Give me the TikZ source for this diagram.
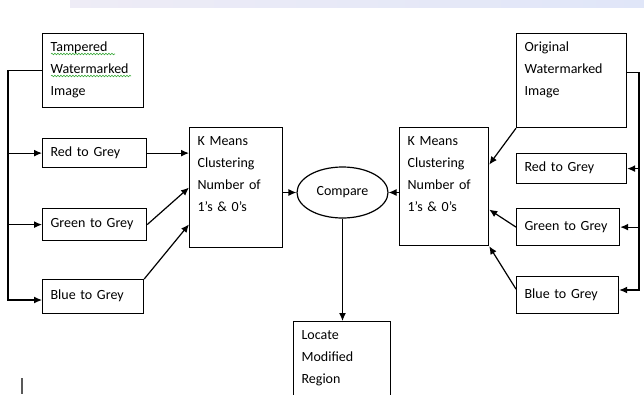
\documentclass[tikz,border=0pt]{standalone}
\usepackage{fontspec}
\setmainfont{Carlito}
\usetikzlibrary{arrows.meta, positioning, calc, shapes.geometric, decorations.pathmorphing}
\definecolor{bandL}{RGB}{238,236,246}
\definecolor{bandR}{RGB}{224,230,248}
\definecolor{spell}{RGB}{60,170,60}

\begin{document}
\begin{tikzpicture}[
    x=1pt, y=-1pt,
    font=\fontsize{14}{22}\selectfont,
    >={Latex[length=8pt, width=7pt]},
    % Base styles for the boxes (text sits at the top left)
    box/.style={rectangle, draw=black, line width=1.2pt, anchor=north west, align=left, inner xsep=8pt, inner ysep=0pt, text height=10pt, text depth=4pt},
    tall/.style={box, inner ysep=8pt, text depth=#1},
    oval/.style={ellipse, draw=black, line width=1.2pt, inner sep=0pt, minimum width=91pt, minimum height=51pt},
    wire/.style={line width=1.2pt},
    spellmark/.style={spell, line width=0.6pt, decorate, decoration={snake, amplitude=0.8pt, segment length=3pt}}
]
\useasboundingbox (0,0) rectangle (644,394);
\clip (0,0) rectangle (644,394);

% faint banner along the top edge
\shade[left color=bandL, right color=bandR] (70,0) rectangle (644,7.5);

% --- Left side: tampered image ---
\node[tall=48pt, text width=85pt] (tamp) at (42,33) {Tampered\\Watermarked\\Image};
\node[box, text width=88pt, minimum height=29pt] (redL) at (42,138) {Red to Grey};
\node[box, text width=88pt, minimum height=32pt] (greenL) at (42,208) {Green to Grey};
\node[box, text width=85pt, minimum height=34pt] (blueL) at (42,279) {Blue to Grey};
\node[tall=94pt, text width=77pt] (kmL) at (189,127) {K Means\\Clustering\\Number of\\1’s \& 0’s};

% --- Middle ---
\node[oval] (cmp) at (342.5,192.5) {Compare};
\node[tall=74pt, text width=81pt] (locate) at (293,321) {Locate\\Modified\\Region};

% --- Right side: original image ---
\node[tall=92pt, text width=73pt] (kmR) at (399,127) {K Means\\Clustering\\Number of\\1’s \& 0’s};
\node[tall=68pt, text width=94pt] (orig) at (516,33) {Original\\Watermarked\\Image};
\node[box, text width=94pt, minimum height=30pt] (redR) at (516,153) {Red to Grey};
\node[box, text width=87pt, minimum height=37pt] (greenR) at (516,208) {Green to Grey};
\node[box, text width=86pt, minimum height=37pt] (blueR) at (516,276) {Blue to Grey};

% spell-check squiggles under the first two words
\draw[spellmark] (51,54) -- (115,54);
\draw[spellmark] (51,76) -- (131,76);

% --- Feed lines ---
\coordinate (trunkL) at (8,300);
\coordinate (trunkR) at (639,290);
\draw[wire, ->] (tamp.west) -| (trunkL) -- (trunkL -| blueL.west);
\draw[wire, ->] (trunkL |- redL.west) -- (redL.west);
\draw[wire, ->] (trunkL |- greenL.west) -- (greenL.west);

\draw[wire, ->] ([yshift=8pt]orig.east) -| (trunkR) -- (trunkR -| blueR.east);
\draw[wire, ->] (trunkR |- redR.east) -- (redR.east);
\draw[wire, ->] (trunkR |- greenR.east) -- (greenR.east);

% --- Into the clustering boxes ---
\draw[wire, ->] (redL.east) -- (redL.east -| kmL.west);
\draw[wire, ->] (greenL.east) -- (kmL.west);
\draw[wire, ->] (blueL.north east) -- (kmL.218);

\draw[wire, ->] (orig.south west) -- (kmR.26);
\draw[wire, ->] (greenR.west) -- (kmR.-27);
\draw[wire, ->] ([yshift=6pt]blueR.west) -- (kmR.south east);

% --- Compare and result ---
\draw[wire, ->] (cmp.west -| kmL.east) -- (cmp.west);
\draw[wire, ->] (cmp.east -| kmR.west) -- (cmp.east);
\draw[wire, ->] (cmp.south) -- (cmp.south |- locate.north);

% stray cursor mark
\draw[gray!70!black, line width=1.5pt] (22,378) -- (22,394);

\end{tikzpicture}
\end{document}
